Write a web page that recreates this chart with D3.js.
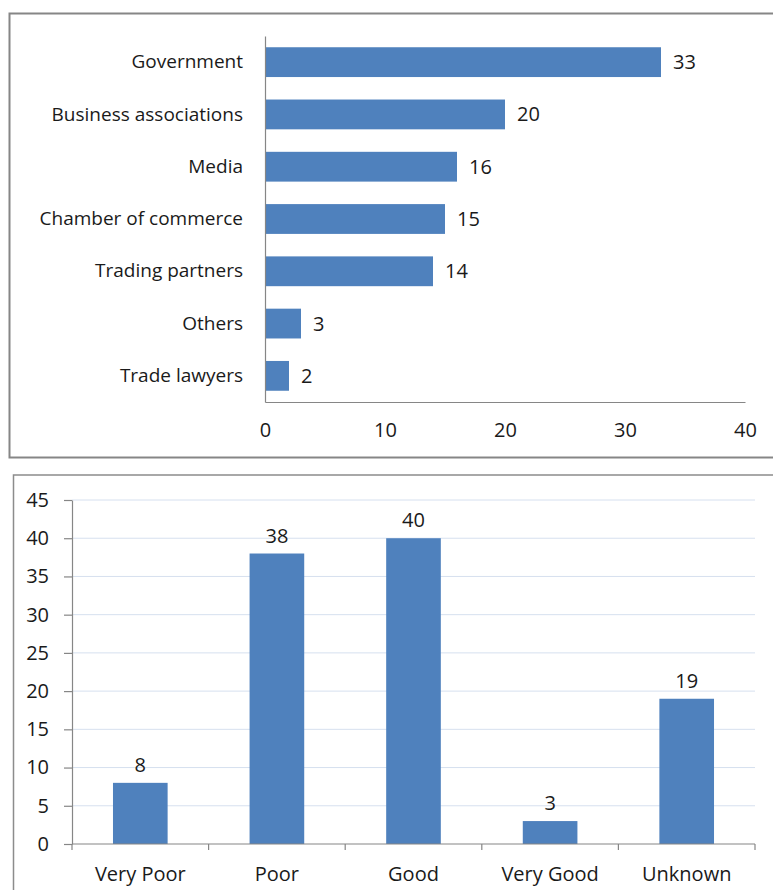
<!DOCTYPE html>
<html>
<head>
<meta charset="utf-8">
<script src="https://cdn.jsdelivr.net/npm/d3@7"></script>
<style>
  body { margin: 0; background: #fff; }
  svg { display: block; font-family: "Open Sans", "Noto Sans", sans-serif; }
</style>
</head>
<body>
<svg id="chart" width="773" height="890"></svg>
<script>
// top chart: sources
const sourceNames = ["Government", "Business associations", "Media", "Chamber of commerce", "Trading partners", "Others", "Trade lawyers"];
const sourceValues = [33, 20, 16, 15, 14, 3, 2];
const sourceTicks = [0, 10, 20, 30, 40];

// bottom chart: ratings
const ratingNames = ["Very Poor", "Poor", "Good", "Very Good", "Unknown"];
const ratingValues = [8, 38, 40, 3, 19];
const ratingTicks = [0, 5, 10, 15, 20, 25, 30, 35, 40, 45];

const barColor = "#4f81bd";
const axisColor = "#868686";
const textColor = "#1a1a1a";
const labelSize = 19;
const numSize = 20;

const svg = d3.select("#chart");

// panel frames
svg.append("rect")
    .attr("x", 9.5).attr("y", 13.5)
    .attr("width", 820).attr("height", 444)
    .attr("fill", "none")
    .attr("stroke", "#868686")
    .attr("stroke-width", 2);

svg.append("rect")
    .attr("x", 13.5).attr("y", 475)
    .attr("width", 820).attr("height", 440)
    .attr("fill", "none")
    .attr("stroke", "#8c8c8c")
    .attr("stroke-width", 1.5);

// ---- top horizontal bar chart ----
const topData = sourceNames.map((n, i) => ({name: n, value: sourceValues[i]}));

const xTop = d3.scaleLinear([0, 40], [265, 745]);
const yTop = d3.scaleBand(sourceNames, [36, 402]).paddingInner(0.43).paddingOuter(0.215);

const gTop = svg.append("g");

gTop.selectAll(".bar")
    .data(topData)
    .enter()
    .append("rect")
    .attr("class", "bar")
    .attr("x", xTop(0))
    .attr("y", d => yTop(d.name))
    .attr("width", d => xTop(d.value) - xTop(0))
    .attr("height", yTop.bandwidth())
    .attr("fill", barColor);

// x axis (no tick marks)
const xAxisTop = d3.axisBottom(xTop).tickValues(sourceTicks).tickSize(0).tickPadding(21);
gTop.append("g")
    .attr("transform", "translate(0,402)")
    .call(xAxisTop)
    .call(g => g.select(".domain").attr("stroke", axisColor).attr("stroke-width", 1.2))
    .selectAll("text")
    .attr("font-size", numSize)
    .attr("font-family", "'Open Sans', sans-serif")
    .attr("fill", textColor);

// y axis
const yAxisTop = d3.axisLeft(yTop).tickSize(0).tickPadding(22);
gTop.append("g")
    .attr("transform", "translate(265,0)")
    .call(yAxisTop)
    .call(g => g.select(".domain").attr("stroke", axisColor).attr("stroke-width", 1.2))
    .selectAll("text")
    .attr("font-size", labelSize)
    .attr("font-family", "'Open Sans', sans-serif")
    .attr("fill", textColor);

gTop.selectAll(".val")
    .data(topData)
    .enter()
    .append("text")
    .attr("class", "val")
    .attr("x", d => xTop(d.value) + 12)
    .attr("y", d => yTop(d.name) + yTop.bandwidth() / 2)
    .attr("dy", "0.35em")
    .attr("font-size", numSize)
    .attr("fill", textColor)
    .text(d => d.value);

// ---- bottom column chart ----
const botData = ratingNames.map((n, i) => ({name: n, value: ratingValues[i]}));

const xBot = d3.scaleBand(ratingNames, [72, 755]).paddingInner(0.6).paddingOuter(0.3);
const yBot = d3.scaleLinear([0, 45], [844, 500]);

const gBot = svg.append("g");

// gridlines
gBot.append("g")
    .selectAll("line")
    .data(ratingTicks.filter(t => t > 0))
    .enter()
    .append("line")
    .attr("x1", 72).attr("x2", 755)
    .attr("y1", d => yBot(d)).attr("y2", d => yBot(d))
    .attr("stroke", "#d6e0ef")
    .attr("stroke-width", 1);

gBot.selectAll(".bar")
    .data(botData)
    .enter()
    .append("rect")
    .attr("class", "bar")
    .attr("x", d => xBot(d.name))
    .attr("y", d => yBot(d.value))
    .attr("width", xBot.bandwidth())
    .attr("height", d => yBot(0) - yBot(d.value))
    .attr("fill", barColor);

const yAxisBot = d3.axisLeft(yBot).tickValues(ratingTicks).tickSize(8).tickSizeOuter(0).tickPadding(15);
gBot.append("g")
    .attr("transform", "translate(72,0)")
    .call(yAxisBot)
    .call(g => g.select(".domain").attr("stroke", axisColor).attr("stroke-width", 1.2))
    .call(g => g.selectAll(".tick line").attr("stroke", axisColor).attr("stroke-width", 1.2))
    .selectAll("text")
    .attr("font-size", numSize)
    .attr("font-family", "'Open Sans', sans-serif")
    .attr("fill", textColor);

// x axis: ticks at band boundaries
const xAxisG = gBot.append("g").attr("transform", "translate(0,844)");
xAxisG.append("line")
    .attr("x1", 72).attr("x2", 755)
    .attr("stroke", axisColor).attr("stroke-width", 1.2);
const step = xBot.step();
const firstEdge = xBot(ratingNames[0]) + xBot.bandwidth() / 2 - step / 2;
xAxisG.selectAll(".btick")
    .data(d3.range(ratingNames.length + 1))
    .enter()
    .append("line")
    .attr("class", "btick")
    .attr("x1", i => firstEdge + i * step)
    .attr("x2", i => firstEdge + i * step)
    .attr("y1", 0).attr("y2", 6)
    .attr("stroke", axisColor).attr("stroke-width", 1.2);
xAxisG.selectAll(".cat")
    .data(ratingNames)
    .enter()
    .append("text")
    .attr("class", "cat")
    .attr("x", d => xBot(d) + xBot.bandwidth() / 2)
    .attr("y", 30)
    .attr("dy", "0.35em")
    .attr("text-anchor", "middle")
    .attr("font-size", numSize)
    .attr("fill", textColor)
    .text(d => d);

gBot.selectAll(".val")
    .data(botData)
    .enter()
    .append("text")
    .attr("class", "val")
    .attr("x", d => xBot(d.name) + xBot.bandwidth() / 2)
    .attr("y", d => yBot(d.value) - 11)
    .attr("text-anchor", "middle")
    .attr("font-size", numSize)
    .attr("fill", textColor)
    .text(d => d.value);
</script>
</body>
</html>
